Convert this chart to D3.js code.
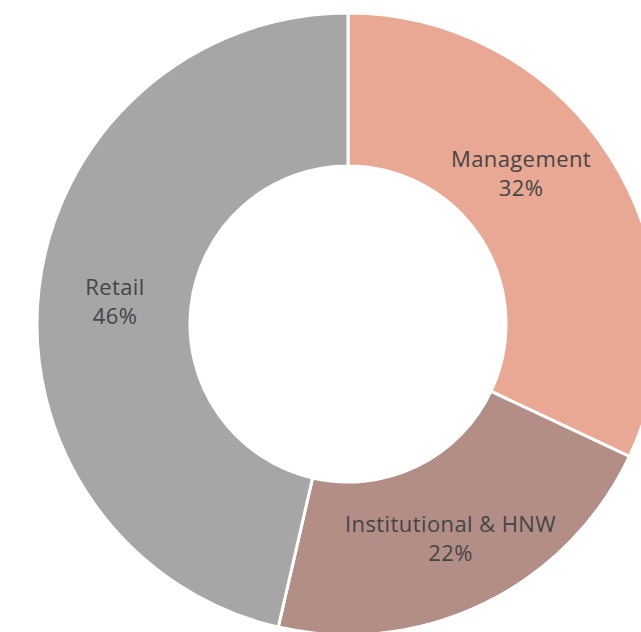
<!DOCTYPE html>
<html>
<head>
<meta charset="utf-8">
<script src="https://cdn.jsdelivr.net/npm/d3@7"></script>
<style>
  body { margin: 0; background: #fff; }
  svg { display: block; }
</style>
</head>
<body>
<svg width="641" height="632"></svg>
<script>
let categories = ["Management", "Institutional & HNW", "Retail"];
let values = [32.0, 21.6, 46.4];
let colors = ["#E8A893", "#B38E87", "#A6A6A6"];

let svg = d3.select("svg");
let cx = 348, cy = 324;
let outerR = 311, innerR = 158;

let pie = d3.pie().sort(null).value(d => d.value);
let arc = d3.arc().innerRadius(innerR).outerRadius(outerR);
let labelArc = d3.arc().innerRadius((innerR + outerR) / 2).outerRadius((innerR + outerR) / 2);

let data = categories.map((c, i) => ({ name: c, value: values[i], color: colors[i] }));
let total = d3.sum(values);
let arcs = pie(data);

let g = svg.append("g").attr("transform", `translate(${cx},${cy})`);

g.selectAll("path")
  .data(arcs)
  .enter()
  .append("path")
  .attr("d", arc)
  .attr("fill", d => d.data.color)
  .attr("stroke", "#fff")
  .attr("stroke-width", 3);

// first label is pulled in a bit, like the original
let nudge = [[-25, -28], [0, 0], [0, 0]];

let labels = g.selectAll("text")
  .data(arcs)
  .enter()
  .append("text")
  .attr("text-anchor", "middle")
  .attr("font-family", "'Open Sans', sans-serif")
  .attr("font-size", "22px")
  .attr("letter-spacing", "0.4px")
  .attr("fill", "#454545")
  .attr("transform", (d, i) => {
    let [x, y] = labelArc.centroid(d);
    return `translate(${x + nudge[i][0]},${y + nudge[i][1]})`;
  });

labels.append("tspan")
  .attr("x", 0)
  .attr("y", -3)
  .text(d => d.data.name);

labels.append("tspan")
  .attr("x", 0)
  .attr("y", 26)
  .text(d => Math.round(d.data.value / total * 100) + "%");
</script>
</body>
</html>
